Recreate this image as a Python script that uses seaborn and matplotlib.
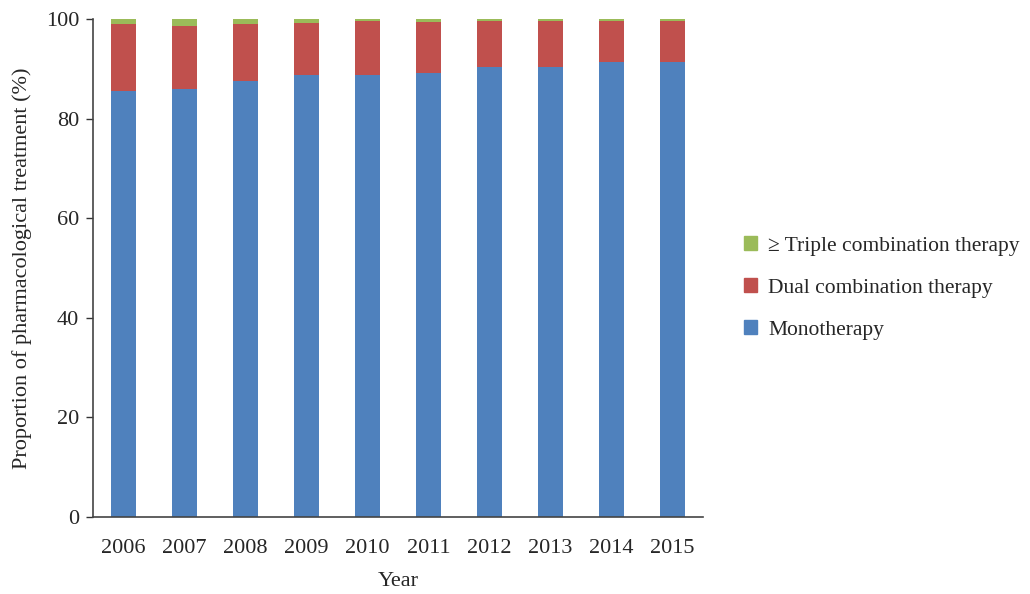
import matplotlib
matplotlib.use("Agg")
import matplotlib.pyplot as plt
import seaborn as sns
import numpy as np
import pandas as pd
from matplotlib.patches import Patch

years = ["2006", "2007", "2008", "2009", "2010", "2011", "2012", "2013", "2014", "2015"]
monotherapy = [85.6, 85.9, 87.5, 88.8, 88.8, 89.1, 90.3, 90.3, 91.4, 91.4]
dual = [13.3, 12.7, 11.4, 10.3, 10.7, 10.3, 9.3, 9.3, 8.2, 8.2]
triple = [1.1, 1.4, 1.1, 0.9, 0.5, 0.6, 0.4, 0.4, 0.4, 0.4]

sns.set_theme(style="white")
plt.rcParams['font.family'] = ['Liberation Serif', 'DejaVu Serif']

df = pd.DataFrame({"Year": years, "mono": monotherapy, "dual": dual, "triple": triple})
df["cum2"] = df["mono"] + df["dual"]
df["cum3"] = df["cum2"] + df["triple"]

c_mono, c_dual, c_tri = "#4F81BD", "#C0504D", "#9BBB59"

fig = plt.figure(figsize=(10.3, 5.94), dpi=100)
ax = fig.add_axes([93/1030, 1 - 517/594, (703-93)/1030, (517-19)/594])

sns.barplot(data=df, x="Year", y="cum3", color=c_tri, width=0.4, ax=ax, saturation=1, linewidth=0)
sns.barplot(data=df, x="Year", y="cum2", color=c_dual, width=0.4, ax=ax, saturation=1, linewidth=0)
sns.barplot(data=df, x="Year", y="mono", color=c_mono, width=0.4, ax=ax, saturation=1, linewidth=0)

ax.set_ylim(0, 100)
ax.set_xlim(-0.5, 9.5)
ax.set_yticks([0, 20, 40, 60, 80, 100])
ax.set_ylabel("Proportion of pharmacological treatment (%)", fontsize=16, labelpad=10)
ax.set_xlabel("Year", fontsize=16, labelpad=10)
ax.tick_params(axis='both', labelsize=16)
ax.tick_params(axis='y', left=True, length=5, width=1, color='#333333', direction='out', pad=5)
ax.tick_params(axis='x', bottom=False, pad=10)
for s in ["top", "right"]:
    ax.spines[s].set_visible(False)
for s in ["left", "bottom"]:
    ax.spines[s].set_color("#444444")
    ax.spines[s].set_linewidth(1.2)

handles = [Patch(color=c_tri, label="\u2265 Triple combination therapy"),
           Patch(color=c_dual, label="Dual combination therapy"),
           Patch(color=c_mono, label="Monotherapy")]
fig.legend(handles=handles, loc="center left", bbox_to_anchor=(725/1030, 1 - 288/594),
           frameon=False, fontsize=15.5, handlelength=0.6, handleheight=0.6,
           handletextpad=0.5, labelspacing=1.05)

fig.savefig("out.png", dpi=100)
